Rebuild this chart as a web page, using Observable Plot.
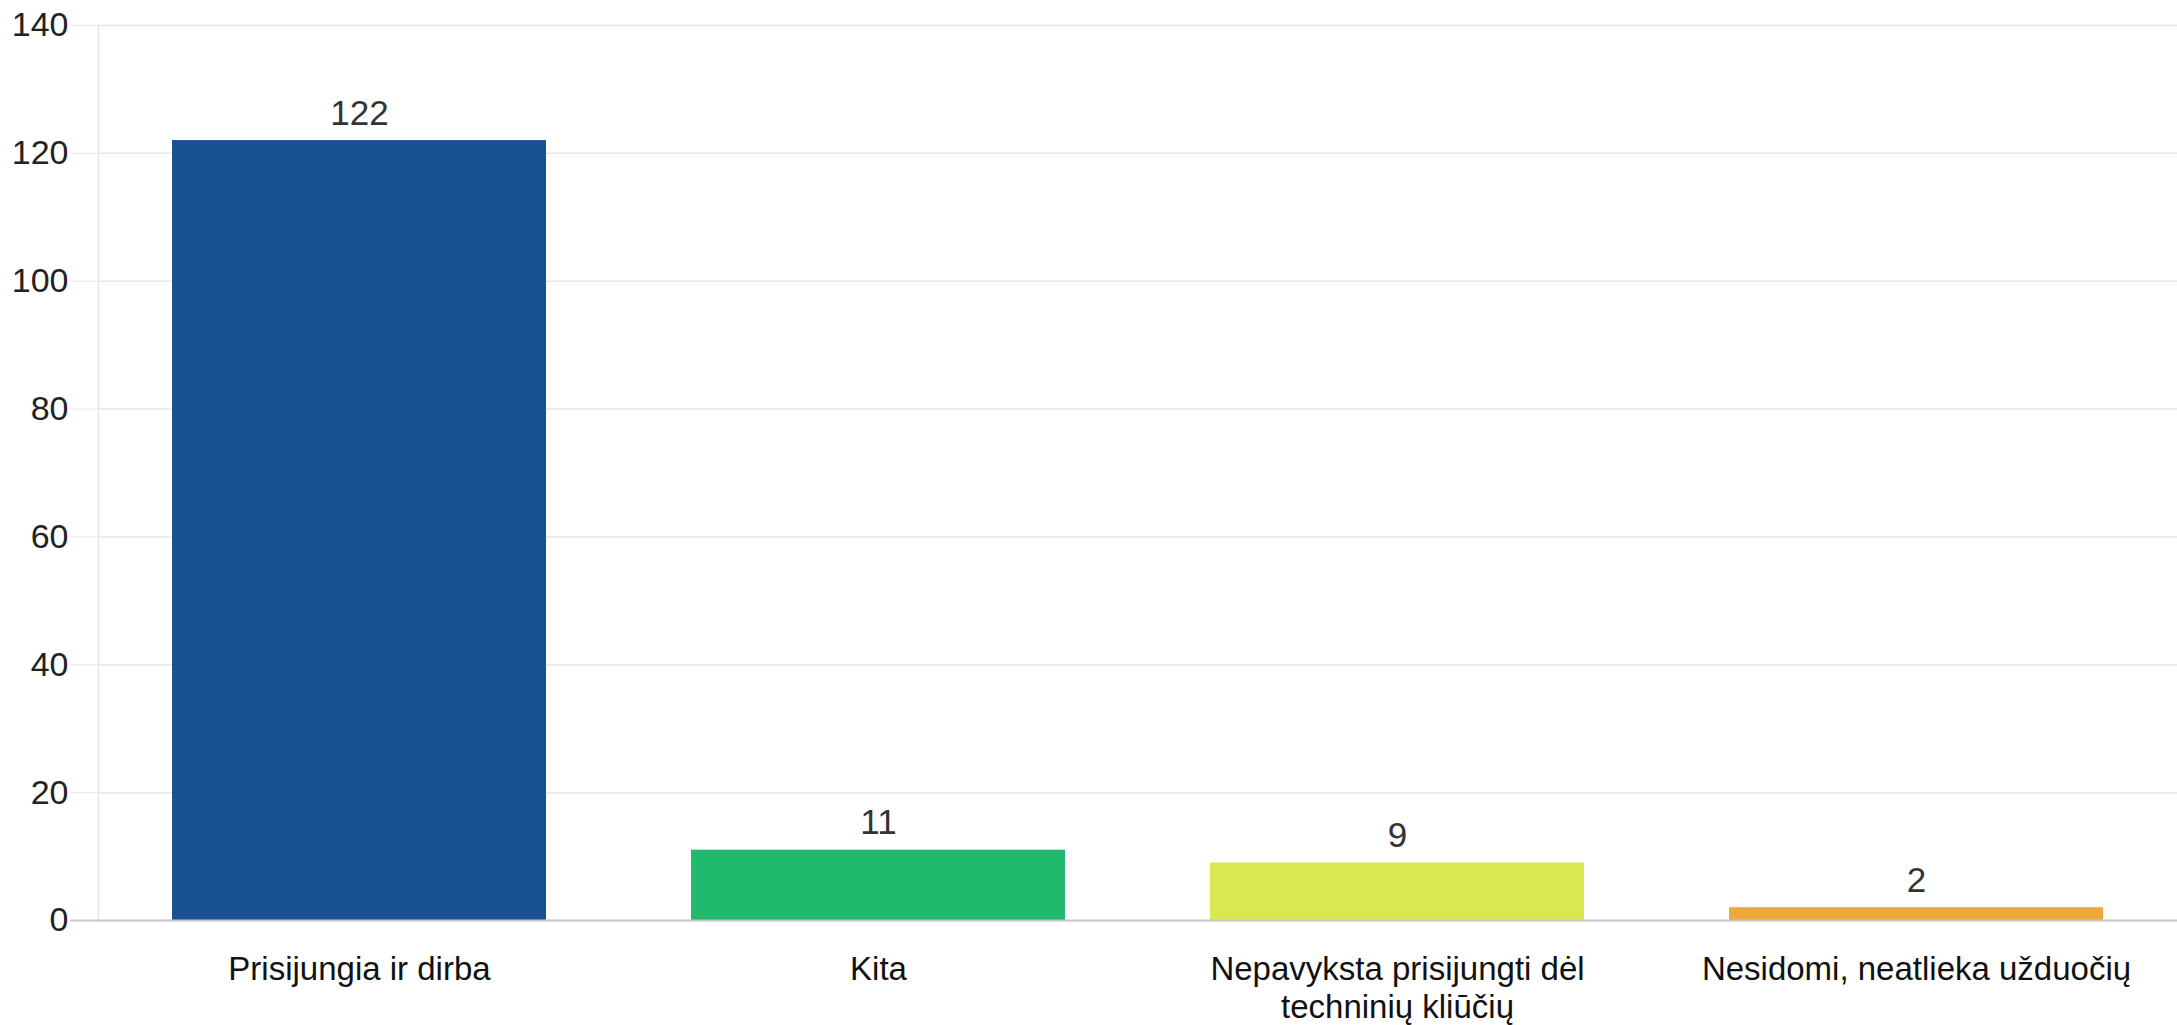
<!DOCTYPE html>
<html>
<head>
<meta charset="utf-8">
<script src="https://cdn.jsdelivr.net/npm/d3@7"></script>
<script src="https://cdn.jsdelivr.net/npm/@observablehq/plot@0.6"></script>
<style>
  html, body { margin: 0; padding: 0; background: #fff; }
  #chart { width: 2177px; height: 1025px; }
</style>
</head>
<body>
<div id="chart"></div>
<script>
const categories = ["Prisijungia ir dirba", "Kita", "Nepavyksta prisijungti dėl techninių kliūčių", "Nesidomi, neatlieka užduočių"];
const tickLabels = ["Prisijungia ir dirba", "Kita", "Nepavyksta prisijungti dėl\ntechninių kliūčių", "Nesidomi, neatlieka užduočių"];
const values = [122, 11, 9, 2];
const colors = ["#1a5291", "#1fba6e", "#d9e84f", "#f0a83a"];
const yTicks = [0, 20, 40, 60, 80, 100, 120, 140];

const data = categories.map((c, i) => ({category: c, value: values[i], color: colors[i]}));
const labelOf = new Map(categories.map((c, i) => [c, tickLabels[i]]));

const chart = Plot.plot({
  width: 2177,
  height: 1025,
  marginLeft: 98,
  marginRight: 0,
  marginTop: 25,
  marginBottom: 105,
  style: {fontFamily: "'Liberation Sans', Arial, sans-serif", background: "#fff", overflow: "visible"},
  x: {domain: categories, paddingInner: 0.28, paddingOuter: 0.14, label: null},
  y: {domain: [0, 140], label: null},
  marks: [
    Plot.gridY(yTicks, {stroke: "#e6e6e6", strokeOpacity: 1, strokeWidth: 1.5}),
    Plot.frame({anchor: "left", stroke: "#e6e6e6", strokeWidth: 1.5}),
    Plot.axisY(yTicks, {tickSize: 28, tickPadding: 2, stroke: "#e6e6e6", strokeOpacity: 1, fontSize: 34, fill: "#222", tickFormat: d => d}),
    Plot.barY(data, {x: "category", y: "value", fill: "color"}),
    Plot.ruleY([0], {stroke: "#c8c8c8", strokeWidth: 2, insetLeft: -28}),
    Plot.text(data, {x: "category", y: "value", text: d => String(d.value), dy: -27, fontSize: 35, fill: "#333"}),
    Plot.axisX({tickSize: 0, tickPadding: 33, fontSize: 33, fill: "#111", lineHeight: 1.15, tickFormat: d => labelOf.get(d)})
  ]
});
document.getElementById("chart").appendChild(chart);
</script>
</body>
</html>
